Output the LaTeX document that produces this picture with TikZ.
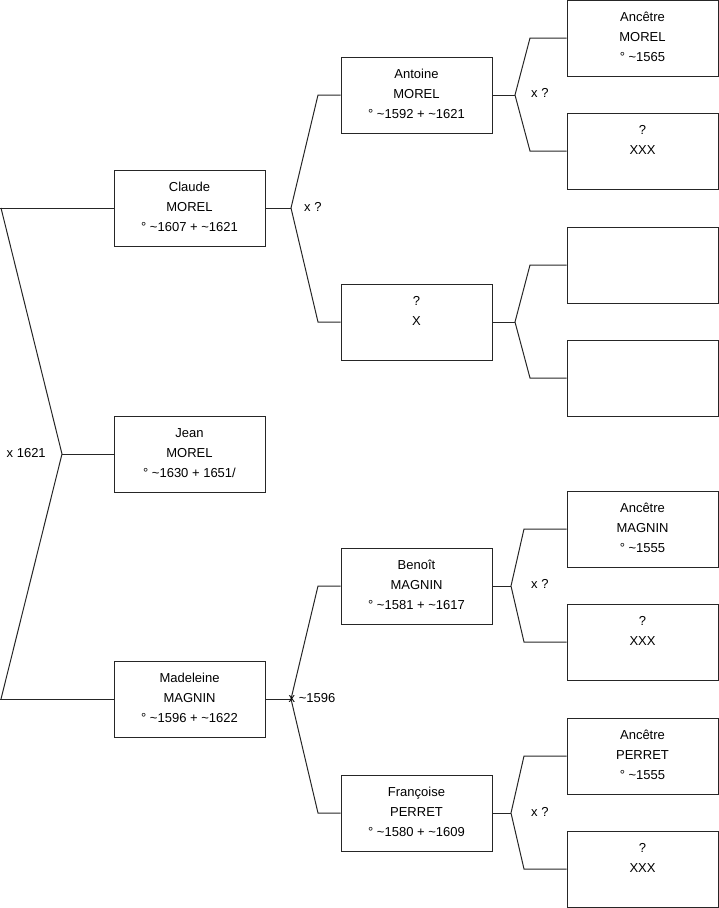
\documentclass[tikz,border=0pt]{standalone}
\usepackage{fontspec}
\setmainfont{Liberation Sans}
\newcommand{\tld}{\textasciitilde}
\begin{document}
\begin{tikzpicture}[x=1pt,y=-1pt,
  personbox/.style={draw=black!85,line width=1pt,minimum width=151pt,minimum height=76pt,inner sep=0pt},
  boxtext/.style={anchor=north,inner sep=0pt,align=center,font=\fontsize{13}{20}\selectfont},
  marriage/.style={anchor=west,inner sep=0pt,font=\fontsize{13}{20}\selectfont},
  link/.style={draw=black!85,line width=1pt}]
\useasboundingbox (0,0) rectangle (719,908);
% column 1
\node[personbox] (claude) at (189.5,208) {};
\node[personbox] (jean) at (189.5,454) {};
\node[personbox] (madeleine) at (189.5,699) {};
% column 2
\node[personbox] (antoine) at (416.5,95) {};
\node[personbox] (px) at (416.5,322) {};
\node[personbox] (benoit) at (416.5,586) {};
\node[personbox] (francoise) at (416.5,813) {};
% column 3
\node[personbox] (amorel) at (642.5,38) {};
\node[personbox] (xxxa) at (642.5,151) {};
\node[personbox] (emptya) at (642.5,265) {};
\node[personbox] (emptyb) at (642.5,378) {};
\node[personbox] (amagnin) at (642.5,529) {};
\node[personbox] (xxxb) at (642.5,642) {};
\node[personbox] (aperret) at (642.5,756) {};
\node[personbox] (xxxc) at (642.5,869) {};
% texts
\node[boxtext] (tclaude) at ([yshift=-7.5pt]claude.north) {\strut Claude\\MOREL\\° \tld1607 + \tld1621};
\node[boxtext] (tjean) at ([yshift=-7.5pt]jean.north) {\strut Jean\\MOREL\\° \tld1630 + 1651/};
\node[boxtext] (tmadeleine) at ([yshift=-7.5pt]madeleine.north) {\strut Madeleine\\MAGNIN\\° \tld1596 + \tld1622};
\node[boxtext] (tantoine) at ([yshift=-7.5pt]antoine.north) {\strut Antoine\\MOREL\\° \tld1592 + \tld1621};
\node[boxtext] (tpx) at ([yshift=-7.5pt]px.north) {\strut ?\\X};
\node[boxtext] (tbenoit) at ([yshift=-7.5pt]benoit.north) {\strut Benoît\\MAGNIN\\° \tld1581 + \tld1617};
\node[boxtext] (tfrancoise) at ([yshift=-7.5pt]francoise.north) {\strut Françoise\\PERRET\\° \tld1580 + \tld1609};
\node[boxtext] (tamorel) at ([yshift=-7.5pt]amorel.north) {\strut Ancêtre\\MOREL\\° \tld1565};
\node[boxtext] (txxxa) at ([yshift=-7.5pt]xxxa.north) {\strut ?\\XXX};
\node[boxtext] (tamagnin) at ([yshift=-7.5pt]amagnin.north) {\strut Ancêtre\\MAGNIN\\° \tld1555};
\node[boxtext] (txxxb) at ([yshift=-7.5pt]xxxb.north) {\strut ?\\XXX};
\node[boxtext] (taperret) at ([yshift=-7.5pt]aperret.north) {\strut Ancêtre\\PERRET\\° \tld1555};
\node[boxtext] (txxxc) at ([yshift=-7.5pt]xxxc.north) {\strut ?\\XXX};
% fork coordinates
\coordinate (rt) at (1,208);
\coordinate (rm) at (62,454);
\coordinate (rb) at (1,699);
\coordinate (cf) at (291,208);
\coordinate (cft) at (318,95);
\coordinate (cfb) at (318,322);
\coordinate (mf) at (291,699);
\coordinate (mft) at (318,586);
\coordinate (mfb) at (318,813);
\coordinate (af) at (515,95);
\coordinate (aft) at (530,38);
\coordinate (afb) at (530,151);
\coordinate (xf) at (515,322);
\coordinate (xft) at (530,265);
\coordinate (xfb) at (530,378);
\coordinate (bf) at (511,586);
\coordinate (bft) at (524,529);
\coordinate (bfb) at (524,642);
\coordinate (ff) at (511,813);
\coordinate (fft) at (524,756);
\coordinate (ffb) at (524,869);
% connectors
\draw[link] (claude.west) -- (0,208);
\draw[link] (rt) -- (rm) -- (rb);
\draw[link] (rm) -- (jean.west);
\draw[link] (madeleine.west) -- (0,699);
\draw[link] (claude.east) -- (cf);
\draw[link] (antoine.west) -- (cft) -- (cf) -- (cfb) -- (px.west);
\draw[link] (madeleine.east) -- (mf);
\draw[link] (benoit.west) -- (mft) -- (mf) -- (mfb) -- (francoise.west);
\draw[link] (antoine.east) -- (af);
\draw[link] (amorel.west) -- (aft) -- (af) -- (afb) -- (xxxa.west);
\draw[link] (px.east) -- (xf);
\draw[link] (emptya.west) -- (xft) -- (xf) -- (xfb) -- (emptyb.west);
\draw[link] (benoit.east) -- (bf);
\draw[link] (amagnin.west) -- (bft) -- (bf) -- (bfb) -- (xxxb.west);
\draw[link] (francoise.east) -- (ff);
\draw[link] (aperret.west) -- (fft) -- (ff) -- (ffb) -- (xxxc.west);
% marriage labels
\node[marriage] (m1) at (6.5,453) {x 1621};
\node[marriage] (m2) at (304,207) {x ?};
\node[marriage] (m3) at (288.5,698) {x \tld1596};
\node[marriage] (m4) at (531,93) {x ?};
\node[marriage] (m5) at (531,584) {x ?};
\node[marriage] (m6) at (531,812) {x ?};
\end{tikzpicture}
\end{document}
